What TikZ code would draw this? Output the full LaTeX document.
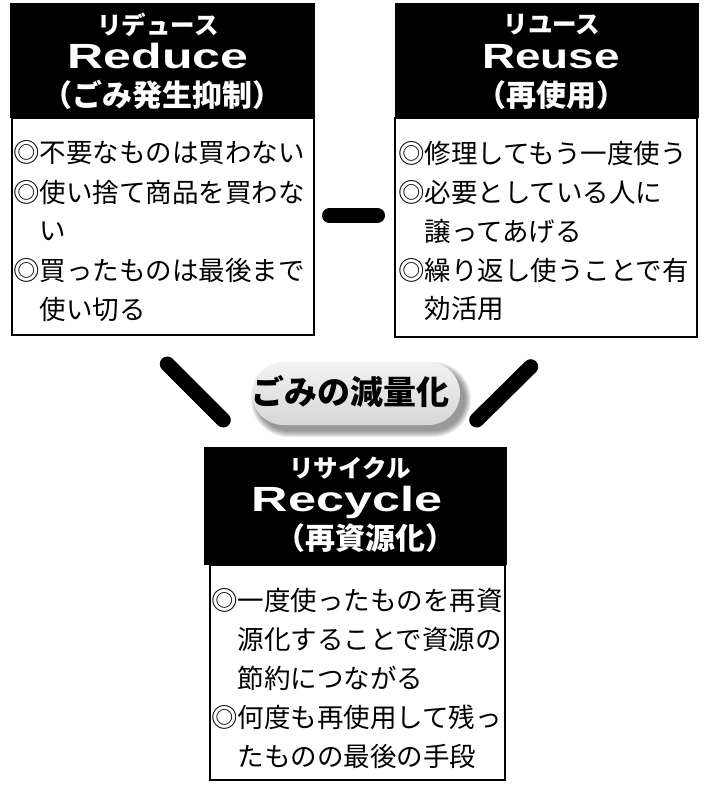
\documentclass[tikz,border=0pt]{standalone}
\usepackage{fontspec}
\usepackage{graphicx}
\newfontfamily\jp{Noto Sans CJK JP}
\newfontfamily\lat{Liberation Sans}
\usetikzlibrary{shadings}
\tikzset{
  hdr/.style={fill=black, draw=none},
  bodybox/.style={draw=black, line width=1.6pt, fill=white},
  bl/.style={anchor=west, inner sep=0pt, font=\jp\fontsize{26.5}{26.5}\selectfont},
  kana/.style={inner sep=0pt, text=white, font=\jp\bfseries\fontsize{24.5}{24.5}\selectfont},
  eng/.style={inner sep=0pt, anchor=base, text=white, font=\lat\bfseries\fontsize{35}{35}\selectfont},
  paren/.style={inner sep=0pt, text=white, font=\jp\bfseries\fontsize{30}{30}\selectfont},
  bar/.style={line width=15pt, line cap=round, black},
}
\begin{document}
\begin{tikzpicture}[x=1pt, y=-1pt]
\useasboundingbox (0,0) rectangle (707,787);

% ---------- Reduce ----------
\fill[hdr] (10,3) rectangle (315,118);
\draw[bodybox] (12,118) rectangle (314,335);
\node[kana] (k1) at (158,25) {リデュース};
\node[eng] (e1) at (158,68) {\scalebox{1.43}[1]{Reduce}};
\node[paren] (p1) at (162,95) {（ごみ発生抑制）};
\node[bl] (a1) at (13,153) {◎不要なものは買わない};
\node[bl] (a2) at (13,192) {◎使い捨て商品を買わな};
\node[bl] (a3) at (39.5,231) {い};
\node[bl] (a4) at (13,270) {◎買ったものは最後まで};
\node[bl] (a5) at (39.5,309) {使い切る};

% ---------- Reuse ----------
\fill[hdr] (395,3) rectangle (699,118);
\draw[bodybox] (395,118) rectangle (697,337);
\node[kana] (k2) at (552,25) {リユース};
\node[eng] (e2) at (551,68) {\scalebox{1.31}[1]{Reuse}};
\node[paren] (p2) at (551,95) {（再使用）};
\node[bl] (b1) at (398,153) {◎修理してもう一度使う};
\node[bl] (b2) at (398,192) {◎必要としている人に};
\node[bl] (b3) at (424.5,231) {譲ってあげる};
\node[bl] (b4) at (398,270) {◎繰り返し使うことで有};
\node[bl] (b5) at (424.5,309) {効活用};

% ---------- Recycle ----------
\fill[hdr] (204,447) rectangle (507,565);
\draw[bodybox] (210,565) rectangle (505,780);
\node[kana] (k3) at (350,468) {リサイクル};
\node[eng] (e3) at (347,511) {\scalebox{1.44}[1]{Recycle}};
\node[paren] (p3) at (365,538) {（再資源化）};
\node[bl] (c1) at (211,600) {◎一度使ったものを再資};
\node[bl] (c2) at (237.5,639) {源化することで資源の};
\node[bl] (c3) at (237.5,678) {節約につながる};
\node[bl] (c4) at (211,717) {◎何度も再使用して残っ};
\node[bl] (c5) at (237.5,756) {たものの最後の手段};

% ---------- bars ----------
\coordinate (m1) at (329.5,215.5);
\coordinate (m2) at (377.5,215.5);
\draw[bar] (m1) -- (m2);
\coordinate (l1) at (167.3,364);
\coordinate (l2) at (223.3,420);
\draw[bar] (l1) -- (l2);
\coordinate (r1) at (530.7,366.7);
\coordinate (r2) at (476.7,420);
\draw[bar] (r1) -- (r2);

% ---------- pill ----------
\foreach \i in {0,1,...,6} {
  \fill[black, opacity=0.07, rounded corners={31.5+\i}]
    ({252+5-\i},{362+6-\i}) rectangle ({460+5+\i},{425+6+\i});
}
\shade[top color=gray!10, bottom color=gray!32, rounded corners=31.5]
  (252,362) rectangle (460,425);
\node[inner sep=0pt, font=\jp\bfseries\fontsize{33}{33}\selectfont] (pill) at (350,392) {ごみの減量化};
\end{tikzpicture}
\end{document}
